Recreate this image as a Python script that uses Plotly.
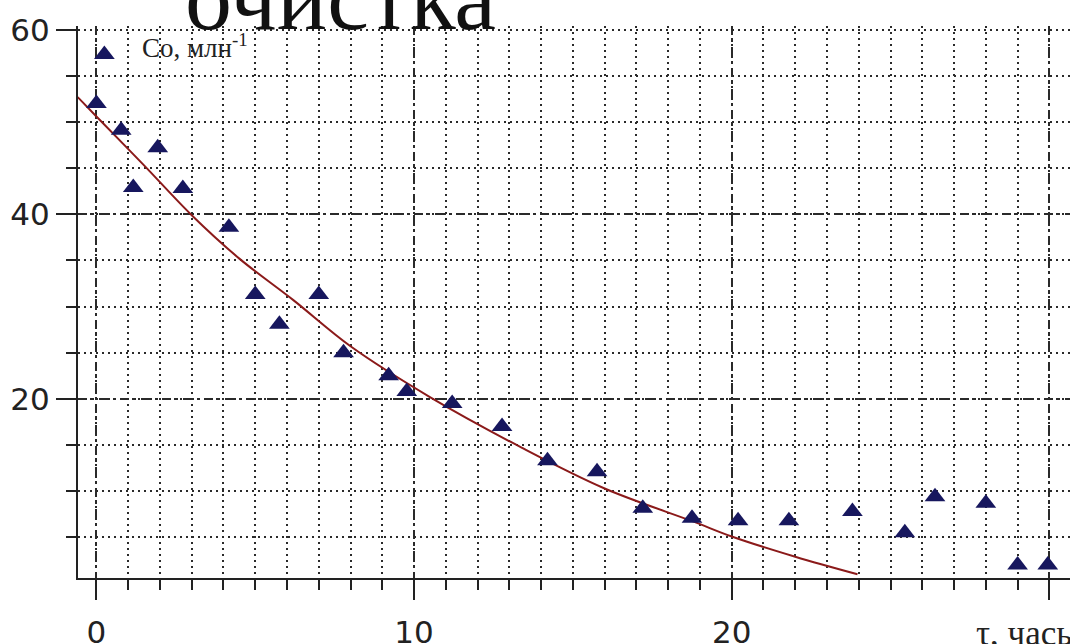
import plotly.graph_objects as go

# measured points: time (hours) and concentration
tau = [0, 0.25, 0.78, 1.16, 1.93, 2.72, 4.17, 5.0, 5.76, 7.0, 7.78, 9.2, 9.77,
       11.2, 12.77, 14.2, 15.76, 17.2, 18.75, 20.2, 21.8, 23.8, 25.45, 26.4,
       28.0, 29.0, 29.95]
co = [52.0, 57.3, 49.1, 42.9, 47.2, 42.8, 38.6, 31.3, 28.1, 31.3, 25.0, 22.5,
      20.8, 19.5, 17.0, 13.3, 12.1, 8.15, 7.07, 6.8, 6.8, 7.8, 5.5, 9.4,
      8.7, 2.0, 2.0]

# trend curve
curve_tau = [-0.59, 0, 1.5, 3, 4.5, 6.2, 8, 10.5, 13.4, 16, 18.8, 20, 22, 23.96]
curve_co = [52.7, 50.6, 45.3, 39.9, 35.2, 30.7, 25.7, 20.2, 14.7, 10.3, 6.7,
            5.1, 2.9, 1.0]

x_tickvals = [0, 10, 20, 30]
x_ticktext = ["0", "10", "20", ""]
y_tickvals = [20, 40, 60]
y_ticktext = ["20", "40", "60"]
y_major_grid = [20, 40]

title_text = "очистка"
y_label = "Со, млн<sup>-1</sup>"
x_label = "τ, часы"

XR = [-0.58, 30.65]
YR = [0.6, 60.4]
GRID = "#2a2a2a"

fig = go.Figure()
fig.add_trace(go.Scatter(x=curve_tau, y=curve_co, mode="lines",
                         line=dict(color="#8b1a1a", width=2, shape="spline"),
                         hoverinfo="skip", showlegend=False))
fig.add_trace(go.Scatter(x=tau, y=co, mode="markers", yaxis="y2",
                         marker=dict(symbol="triangle-up", size=18, color="#17175e",
                                     line=dict(width=0)),
                         showlegend=False))

fig.update_layout(
    width=1070, height=644, autosize=False,
    margin=dict(l=78, r=0, t=26, b=66),
    paper_bgcolor="white", plot_bgcolor="white",
    font=dict(family="DejaVu Sans", color="#222"),
    xaxis=dict(range=XR, tickmode="array", tickvals=x_tickvals, ticktext=x_ticktext,
               automargin=False,
               showgrid=True, gridcolor=GRID, gridwidth=1.5,
               griddash="9px,5px,2px,5px",
               ticks="outside", ticklen=20, tickwidth=2, tickcolor="#222",
               showline=True, linecolor="#222", linewidth=2,
               tickfont=dict(size=31, family="DejaVu Sans", color="#222"),
               ticklabelstandoff=6,
               zeroline=False,
               minor=dict(dtick=1, tick0=0, ticks="outside", ticklen=10,
                          tickwidth=2, tickcolor="#222",
                          showgrid=True, gridcolor=GRID, gridwidth=1.5,
                          griddash="2px,4px")),
    yaxis=dict(range=YR, tickmode="array", tickvals=y_tickvals, ticktext=y_ticktext,
               automargin=False,
               showgrid=False,
               ticks="outside", ticklen=20, tickwidth=2, tickcolor="#222",
               showline=True, linecolor="#222", linewidth=2,
               tickfont=dict(size=31, family="DejaVu Sans", color="#222"),
               zeroline=False,
               minor=dict(dtick=5, tick0=0, ticks="outside", ticklen=10,
                          tickwidth=2, tickcolor="#222",
                          showgrid=True, gridcolor=GRID, gridwidth=1.5,
                          griddash="2px,4px")),
    yaxis2=dict(range=YR, overlaying="y", tickmode="array", tickvals=y_major_grid,
                automargin=False,
                showticklabels=False, ticks="", showline=False, zeroline=False,
                showgrid=True, gridcolor=GRID, gridwidth=1.5,
                griddash="9px,5px,2px,5px"),
    annotations=[
        dict(text=title_text, xref="paper", yref="paper", x=0.265, y=0.955,
             xanchor="center", yanchor="bottom", showarrow=False,
             font=dict(family="Liberation Serif", size=94, color="#111")),
        dict(text=y_label, xref="paper", yref="paper", x=0.0625, y=0.93,
             xanchor="left", yanchor="bottom", showarrow=False,
             font=dict(family="Liberation Serif", size=27, color="#222")),
        dict(text=x_label, xref="paper", yref="paper", x=0.903, y=-0.14,
             xanchor="left", yanchor="bottom", showarrow=False,
             font=dict(family="Liberation Serif", size=35, color="#222")),
    ],
)

fig.write_html("out.html")
